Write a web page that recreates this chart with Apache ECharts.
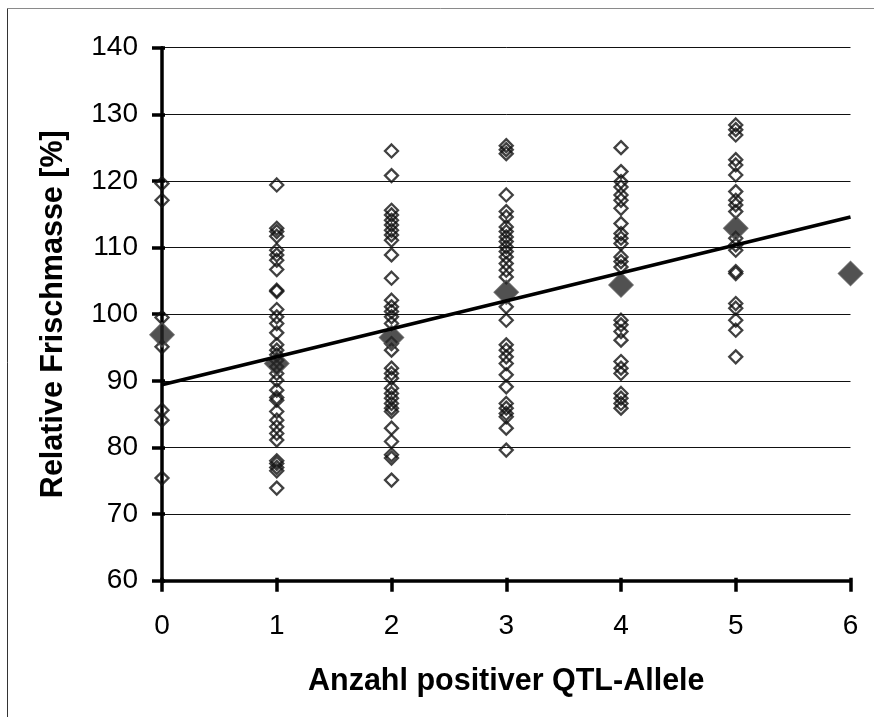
<!DOCTYPE html>
<html>
<head>
<meta charset="utf-8">
<script src="https://cdn.jsdelivr.net/npm/echarts@6/dist/echarts.min.js"></script>
<style>
html,body{margin:0;padding:0;background:#fff;}
#c{width:874px;height:717px;}
</style>
</head>
<body>
<div id="c"></div>
<script>
// ---- data ----
var xTicks = [0, 1, 2, 3, 4, 5, 6];
var yTicks = [60, 70, 80, 90, 100, 110, 120, 130, 140];
var col0 = [119.6, 117.1, 99.5, 95.1, 85.6, 84.1, 75.4];
var col1 = [119.4, 112.9, 112.4, 111.7, 109.6, 108.9, 108.1, 106.7, 103.6, 103.4, 100.7, 99.6, 98.6, 97.2, 95.4, 94.6, 93.9, 93.1, 92.1, 91.1, 90.1, 88.6, 87.5, 87.1, 85.4, 84.1, 83.1, 82.1, 81.1, 78.0, 77.6, 77.0, 76.5, 73.9];
var col2 = [124.5, 120.8, 115.6, 114.9, 114.1, 113.4, 112.6, 111.9, 111.1, 108.9, 105.4, 102.1, 101.1, 100.4, 99.6, 98.6, 95.6, 94.6, 91.9, 91.1, 90.4, 88.9, 88.1, 87.4, 86.6, 85.9, 85.4, 82.9, 80.9, 78.9, 78.4, 75.1];
var col3 = [125.3, 124.7, 124.1, 117.9, 115.4, 114.6, 113.1, 112.4, 111.6, 110.9, 110.1, 109.4, 108.6, 107.6, 106.6, 105.6, 101.1, 99.1, 95.4, 94.6, 93.6, 92.6, 90.9, 89.1, 86.6, 85.9, 85.1, 84.6, 82.9, 79.6];
var col4 = [125.0, 121.4, 119.9, 119.1, 117.9, 117.1, 115.9, 113.6, 112.1, 111.4, 110.6, 108.6, 107.9, 107.1, 99.1, 98.4, 97.4, 96.1, 92.9, 91.9, 91.1, 88.1, 87.4, 86.6, 85.9];
var col5 = [128.4, 127.7, 126.9, 123.2, 122.4, 120.9, 118.4, 117.1, 116.4, 115.4, 111.4, 110.4, 109.6, 106.1, 106.4, 101.6, 100.9, 99.1, 97.6, 93.6];
var columns = [col0, col1, col2, col3, col4, col5];
var meanValues = [96.9, 92.6, 96.5, 103.3, 104.4, 112.9, 106.1];
var trendX = [0, 6];
var trendY = [89.4, 114.6];
var xName = 'Anzahl positiver QTL-Allele';
var yName = 'Relative Frischmasse [%]';

// ---- build ----
var pts = [];
columns.forEach(function (vals, i) {
  vals.forEach(function (v) { pts.push([xTicks[i], v]); });
});
var means = meanValues.map(function (v, i) { return [xTicks[i], v]; });
var trend = trendX.map(function (x, i) { return [x, trendY[i]]; });

var FONT = '"Liberation Sans", Arial, sans-serif';
var chart = echarts.init(document.getElementById('c'), null, {renderer: 'canvas'});

var baseY = {
  type: 'value', min: yTicks[0], max: yTicks[yTicks.length - 1], interval: 10
};
var baseX = {
  type: 'value', min: xTicks[0], max: xTicks[xTicks.length - 1], interval: 1
};

chart.setOption({
  animation: false,
  backgroundColor: '#fff',
  grid: {left: 162, right: 23.5, top: 47.7, bottom: 136.3, containLabel: false},
  xAxis: [
    Object.assign({}, baseX, {
      name: xName, nameLocation: 'middle', nameGap: 85,
      nameTextStyle: {fontFamily: FONT, fontSize: 30.5, fontWeight: 'bold', color: '#000'},
      axisLine: {show: true, onZero: false, lineStyle: {color: '#000', width: 3.5}},
      axisTick: {show: true, length: 11, lineStyle: {color: '#000', width: 3.5}},
      axisLabel: {margin: 32, fontFamily: FONT, fontSize: 28, color: '#000'},
      splitLine: {show: false}
    }),
    Object.assign({}, baseX, {
      position: 'bottom',
      axisLine: {show: false},
      axisTick: {show: true, inside: true, length: 3, lineStyle: {color: '#000', width: 3.5}},
      axisLabel: {show: false},
      splitLine: {show: false}
    })
  ],
  yAxis: [
    Object.assign({}, baseY, {
      name: yName, nameLocation: 'middle', nameGap: 93, nameRotate: 90,
      nameTextStyle: {fontFamily: FONT, fontSize: 30.5, fontWeight: 'bold', color: '#000'},
      axisLine: {show: true, onZero: false, lineStyle: {color: '#000', width: 3.5}},
      axisTick: {show: true, length: 10, lineStyle: {color: '#000', width: 3.5}},
      axisLabel: {margin: 24, fontFamily: FONT, fontSize: 28, color: '#000'},
      splitLine: {show: true, lineStyle: {color: '#111', width: 1}}
    }),
    Object.assign({}, baseY, {
      position: 'left',
      axisLine: {show: false},
      axisTick: {show: true, inside: true, length: 3, lineStyle: {color: '#000', width: 3.5}},
      axisLabel: {show: false},
      splitLine: {show: false}
    })
  ],
  graphic: [
    {type: 'line', shape: {x1: 7.5, y1: 8.5, x2: 874, y2: 8.5}, style: {stroke: '#8a8a8a', lineWidth: 1}},
    {type: 'line', shape: {x1: 7.5, y1: 8.5, x2: 7.5, y2: 717}, style: {stroke: '#333', lineWidth: 1}}
  ],
  series: [
    {
      type: 'scatter', data: pts, symbol: 'diamond', symbolSize: 13, clip: false,
      itemStyle: {color: 'rgba(255,255,255,0)', borderColor: '#111', borderWidth: 2.3},
      z: 2
    },
    {
      type: 'scatter', data: means, symbol: 'diamond', symbolSize: 24, clip: false,
      itemStyle: {color: '#262626', borderColor: '#555', borderWidth: 1.5},
      z: 3
    },
    {
      type: 'line', data: trend, symbol: 'none', clip: false,
      lineStyle: {color: '#000', width: 3.5},
      z: 4
    }
  ]
});
</script>
</body>
</html>
